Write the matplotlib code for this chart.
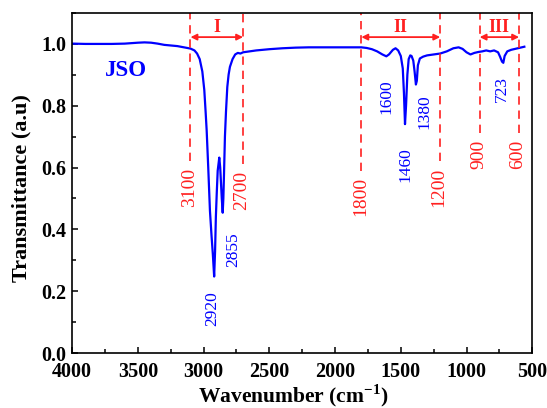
import matplotlib.pyplot as plt
from matplotlib.ticker import MultipleLocator

plt.rcParams['font.family'] = ['Liberation Serif', 'DejaVu Serif']
plt.rcParams['font.weight'] = 'bold'
plt.rcParams['mathtext.fontset'] = 'custom'
plt.rcParams['mathtext.rm'] = 'Liberation Serif:bold'

# FTIR spectrum of JSO (wavenumber in cm-1, transmittance)
wavenumber = [4000, 3900, 3800, 3700, 3600, 3500, 3450, 3400, 3350, 3300,
              3250, 3200, 3150, 3100, 3070, 3050, 3030, 3010, 2995, 2985,
              2977, 2965, 2952, 2940, 2930, 2920, 2913, 2907, 2900, 2893,
              2881, 2874, 2868, 2862, 2855, 2850, 2845, 2838, 2830, 2820,
              2810, 2800, 2780, 2760, 2740, 2720, 2700, 2650, 2600, 2500,
              2400, 2300, 2200, 2100, 2000, 1900, 1800, 1760, 1720, 1680,
              1640, 1610, 1590, 1560, 1540, 1520, 1500, 1485, 1476, 1468,
              1460, 1450, 1440, 1428, 1418, 1405, 1395, 1385, 1378, 1370,
              1355, 1330, 1300, 1250, 1200, 1150, 1100, 1060, 1030, 1000,
              970, 940, 910, 880, 850, 820, 790, 760, 745, 730,
              720, 710, 690, 660, 630, 600, 560]
transmittance = [1.000, 0.999, 0.999, 0.999, 1.000, 1.003, 1.004, 1.003, 1.000, 0.996,
                 0.994, 0.992, 0.988, 0.984, 0.978, 0.968, 0.950, 0.910, 0.850, 0.780,
                 0.720, 0.600, 0.460, 0.380, 0.320, 0.248, 0.330, 0.440, 0.520, 0.590,
                 0.632, 0.600, 0.550, 0.500, 0.454, 0.500, 0.580, 0.700, 0.780, 0.860,
                 0.900, 0.925, 0.950, 0.965, 0.970, 0.968, 0.972, 0.975, 0.978, 0.982,
                 0.985, 0.987, 0.988, 0.988, 0.988, 0.988, 0.988, 0.986, 0.982, 0.975,
                 0.965, 0.959, 0.965, 0.980, 0.985, 0.978, 0.960, 0.920, 0.840, 0.740,
                 0.800, 0.900, 0.950, 0.962, 0.960, 0.945, 0.910, 0.868, 0.880, 0.930,
                 0.952, 0.958, 0.962, 0.965, 0.968, 0.975, 0.985, 0.988, 0.983, 0.972,
                 0.965, 0.970, 0.973, 0.975, 0.978, 0.975, 0.978, 0.972, 0.958, 0.942,
                 0.938, 0.960, 0.975, 0.980, 0.983, 0.986, 0.990]

# peak labels: text, x position, top of the text
peak_labels = ['2920', '2855', '1600', '1460', '1380', '723']
peak_x = [2932, 2775, 1607, 1468, 1323, 730]
peak_y = [0.20, 0.39, 0.885, 0.665, 0.835, 0.895]

# region boundaries
bound_x = [3100, 2700, 1800, 1200, 900, 600]
bound_label_y = [0.60, 0.59, 0.57, 0.60, 0.69, 0.69]

regions = ['I', 'II', 'III']
region_start = [3100, 1800, 900]
region_end = [2700, 1200, 600]

fig = plt.figure(figsize=(5.47, 4.08), dpi=100)
ax = fig.add_axes([0.132, 0.134, 0.841, 0.835])

ax.plot(wavenumber, transmittance, color='#0000ff', linewidth=1.6)

for x, yt in zip(bound_x, bound_label_y):
    ax.plot([x, x], [yt + 0.02, 1.1], color='#ff2020', linestyle=(0, (5, 3.5)),
            linewidth=1.2, clip_on=False)
    ax.text(x + 8, yt, str(x), rotation=90, ha='center', va='top',
            color='#ff2020', fontsize=14, fontweight='normal')

for name, x0, x1 in zip(regions, region_start, region_end):
    ax.annotate('', xy=(x1, 1.021), xytext=(x0, 1.021),
                arrowprops=dict(arrowstyle='<|-|>', color='#ff2020', lw=1.3,
                                mutation_scale=9, shrinkA=0, shrinkB=0))
    ax.text((x0 + x1) / 2, 1.053, name, ha='center', va='center',
            color='#ff2020', fontsize=13, fontweight='bold')

for lab, x, y in zip(peak_labels, peak_x, peak_y):
    ax.text(x, y, lab, rotation=90, ha='center', va='top',
            color='#0000ff', fontsize=12.5, fontweight='normal')

ax.text(3590, 0.912, 'JSO', color='#0000ff', fontsize=16.5, fontweight='bold',
        ha='center', va='center')

ax.set_xlim(4000, 500)
ax.set_ylim(0, 1.1)
ax.xaxis.set_major_locator(MultipleLocator(500))
ax.xaxis.set_minor_locator(MultipleLocator(250))
ax.yaxis.set_major_locator(MultipleLocator(0.2))
ax.yaxis.set_minor_locator(MultipleLocator(0.1))
ax.tick_params(which='both', direction='in', labelsize=14.5, width=1.1)
ax.tick_params(which='major', length=4.5)
ax.tick_params(axis='x', which='major', pad=6)
ax.tick_params(axis='y', which='major', pad=4)
ax.tick_params(which='minor', length=3)
for lbl in ax.get_xticklabels() + ax.get_yticklabels():
    lbl.set_fontweight('bold')
for s in ax.spines.values():
    s.set_linewidth(1.2)

ax.set_xlabel('Wavenumber (cm$^{-1}$)', fontsize=15.5, fontweight='bold')
ax.set_ylabel('Transmittance (a.u)', fontsize=16, fontweight='bold')
ax.xaxis.set_label_coords(0.48, -0.085)
ax.yaxis.set_label_coords(-0.088, 0.485)

fig.savefig('out.png', dpi=100)
